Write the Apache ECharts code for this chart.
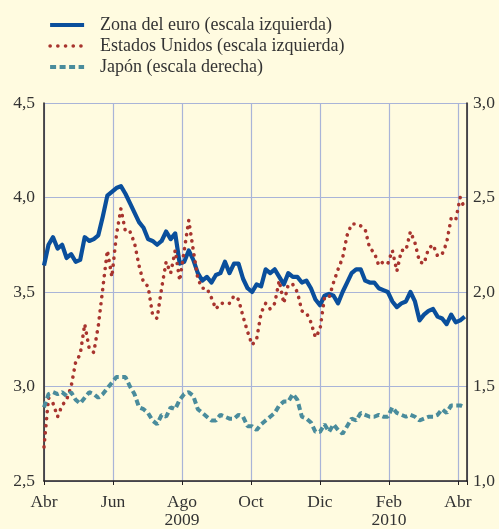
<!DOCTYPE html>
<html>
<head>
<meta charset="utf-8">
<script src="https://cdn.jsdelivr.net/npm/echarts@6/dist/echarts.min.js"></script>
<style>
  html, body { margin: 0; padding: 0; background: #FFFBE0; }
  #chart { width: 499px; height: 529px; }
</style>
</head>
<body>
<div id="chart"></div>
<script>
// eje x: días desde el 1 de abril de 2009, cada 4 días
const dias = Array.from({ length: 94 }, (_, i) => i * 4);

// etiquetas cada dos meses (61 días)
const meses = ['Abr', 'Jun', 'Ago', 'Oct', 'Dic', 'Feb', 'Abr'];
const anios = ['', '', '2009', '', '', '2010', ''];

const zonaEuro = [
  3.64, 3.75, 3.79, 3.73, 3.75, 3.68, 3.70, 3.66, 3.67, 3.79,
  3.77, 3.78, 3.80, 3.90, 4.01, 4.03, 4.05, 4.06, 4.02, 3.97,
  3.92, 3.87, 3.84, 3.78, 3.77, 3.75, 3.77, 3.82, 3.78, 3.81,
  3.65, 3.66, 3.72, 3.67, 3.60, 3.56, 3.58, 3.55, 3.59, 3.60,
  3.66, 3.60, 3.65, 3.65, 3.57, 3.52, 3.50, 3.54, 3.53, 3.62,
  3.60, 3.62, 3.58, 3.54, 3.60, 3.58, 3.58, 3.55, 3.56, 3.52,
  3.46, 3.43, 3.48, 3.49, 3.48, 3.44, 3.50, 3.55, 3.60, 3.62,
  3.62, 3.56, 3.55, 3.55, 3.52, 3.51, 3.50, 3.45, 3.42, 3.44,
  3.45, 3.50, 3.45, 3.35, 3.38, 3.40, 3.41, 3.37, 3.36, 3.33,
  3.38, 3.34, 3.35, 3.37
];

const estadosUnidos = [
  2.68, 2.94, 2.91, 2.84, 2.90, 2.93, 3.00, 3.13, 3.17, 3.33,
  3.20, 3.18, 3.32, 3.52, 3.72, 3.58, 3.80, 3.94, 3.82, 3.82,
  3.76, 3.64, 3.55, 3.53, 3.38, 3.36, 3.52, 3.66, 3.60, 3.72,
  3.56, 3.72, 3.88, 3.72, 3.57, 3.52, 3.52, 3.47, 3.41, 3.44,
  3.44, 3.44, 3.48, 3.46, 3.37, 3.29, 3.22, 3.25, 3.39, 3.44,
  3.41, 3.44, 3.56, 3.44, 3.54, 3.54, 3.50, 3.40, 3.39, 3.34,
  3.26, 3.30, 3.47, 3.47, 3.55, 3.62, 3.68, 3.80, 3.86, 3.86,
  3.85, 3.83, 3.73, 3.71, 3.64, 3.66, 3.65, 3.72, 3.61, 3.72,
  3.72, 3.82, 3.76, 3.66, 3.65, 3.73, 3.75, 3.69, 3.70, 3.76,
  3.89, 3.88, 4.00, 3.94
];

const japon = [
  1.39, 1.46, 1.47, 1.46, 1.47, 1.45, 1.47, 1.43, 1.41, 1.44,
  1.47, 1.46, 1.44, 1.46, 1.49, 1.52, 1.55, 1.55, 1.55, 1.50,
  1.46, 1.39, 1.38, 1.36, 1.32, 1.30, 1.35, 1.34, 1.39, 1.38,
  1.43, 1.46, 1.47, 1.45, 1.38, 1.36, 1.34, 1.32, 1.32, 1.35,
  1.34, 1.33, 1.33, 1.35, 1.34, 1.29, 1.29, 1.27, 1.30, 1.32,
  1.34, 1.36, 1.40, 1.42, 1.42, 1.46, 1.43, 1.34, 1.33, 1.31,
  1.26, 1.26, 1.30, 1.26, 1.30, 1.27, 1.25, 1.29, 1.33, 1.32,
  1.36, 1.35, 1.34, 1.34, 1.35, 1.34, 1.34, 1.39, 1.36, 1.35,
  1.34, 1.35, 1.34, 1.32, 1.33, 1.34, 1.34, 1.35, 1.38, 1.36,
  1.40, 1.40, 1.40, 1.39
];

const pares = (vals) => dias.map((d, i) => [d, vals[i]]);
const coma = (v) => v.toFixed(1).replace('.', ',');

const fuente = '"Liberation Serif", "Times New Roman", serif';
const gris = '#333333';
const rejilla = '#A9B4D8';

const azul = '#0A4F9C';
const rojo = '#A8342E';
const verde = '#4A8C9C';
const estiloEuro = { color: azul, width: 4.2, join: 'round' };
const estiloEEUU = { color: rojo, width: 3.6, type: [0.1, 7], cap: 'round' };
const estiloJapon = { color: verde, width: 4, type: [6, 3.5] };

const myChart = echarts.init(document.getElementById('chart'));
const option = {
  animation: false,
  backgroundColor: '#FFFBE0',
  textStyle: { fontFamily: fuente },
  legend: {
    orient: 'vertical',
    left: 43,
    top: 11,
    itemWidth: 34,
    itemHeight: 14,
    itemGap: 3,
    itemStyle: { opacity: 0 },
    formatter: (n) => '{t|' + n + '}',
    textStyle: {
      fontFamily: fuente,
      fontSize: 18,
      color: gris,
      rich: { t: { fontFamily: fuente, fontSize: 18, color: gris, padding: [0, 0, 0, 11] } }
    },
    data: [
      { name: 'Zona del euro (escala izquierda)', lineStyle: { width: 4.2 } },
      { name: 'Estados Unidos (escala izquierda)', lineStyle: { width: 3.6, type: [0.1, 7.6], cap: 'round' } },
      { name: 'Japón (escala derecha)', lineStyle: { width: 4, type: [6, 3.5] } }
    ]
  },
  grid: { left: 44, right: 32, top: 103, bottom: 47 },
  xAxis: {
    type: 'value',
    min: 0,
    max: 374,
    interval: 61,
    axisLine: { lineStyle: { color: '#231F20', width: 1.5 } },
    axisTick: { show: true, length: 4, lineStyle: { color: '#231F20' } },
    splitLine: { show: true, lineStyle: { color: rejilla, width: 1.2 } },
    axisLabel: {
      margin: 12,
      fontFamily: fuente,
      fontSize: 17.5,
      lineHeight: 18,
      color: gris,
      formatter: (v) => {
        if (v % 61 !== 0) return '';
        const i = v / 61;
        return anios[i] ? meses[i] + '\n' + anios[i] : meses[i];
      }
    }
  },
  yAxis: [
    {
      type: 'value',
      min: 2.5,
      max: 4.5,
      interval: 0.5,
      axisLine: { show: true, lineStyle: { color: '#231F20', width: 1.5 } },
      axisTick: { show: false },
      splitLine: { show: true, lineStyle: { color: rejilla, width: 1.2 } },
      axisLabel: { margin: 9, fontFamily: fuente, fontSize: 17.5, color: gris, formatter: coma }
    },
    {
      type: 'value',
      min: 1.0,
      max: 3.0,
      interval: 0.5,
      position: 'right',
      axisLine: { show: true, lineStyle: { color: '#231F20', width: 1.5 } },
      axisTick: { show: false },
      splitLine: { show: false },
      axisLabel: { margin: 6, fontFamily: fuente, fontSize: 17.5, color: gris, formatter: coma }
    }
  ],
  series: [
    {
      name: 'Zona del euro (escala izquierda)',
      type: 'line',
      yAxisIndex: 0,
      symbol: 'none',
      data: pares(zonaEuro),
      lineStyle: estiloEuro,
      itemStyle: { color: azul }
    },
    {
      name: 'Estados Unidos (escala izquierda)',
      type: 'line',
      yAxisIndex: 0,
      symbol: 'none',
      data: pares(estadosUnidos),
      lineStyle: estiloEEUU,
      itemStyle: { color: rojo }
    },
    {
      name: 'Japón (escala derecha)',
      type: 'line',
      yAxisIndex: 1,
      symbol: 'none',
      data: pares(japon),
      lineStyle: estiloJapon,
      itemStyle: { color: verde }
    }
  ]
};
myChart.setOption(option);
</script>
</body>
</html>
